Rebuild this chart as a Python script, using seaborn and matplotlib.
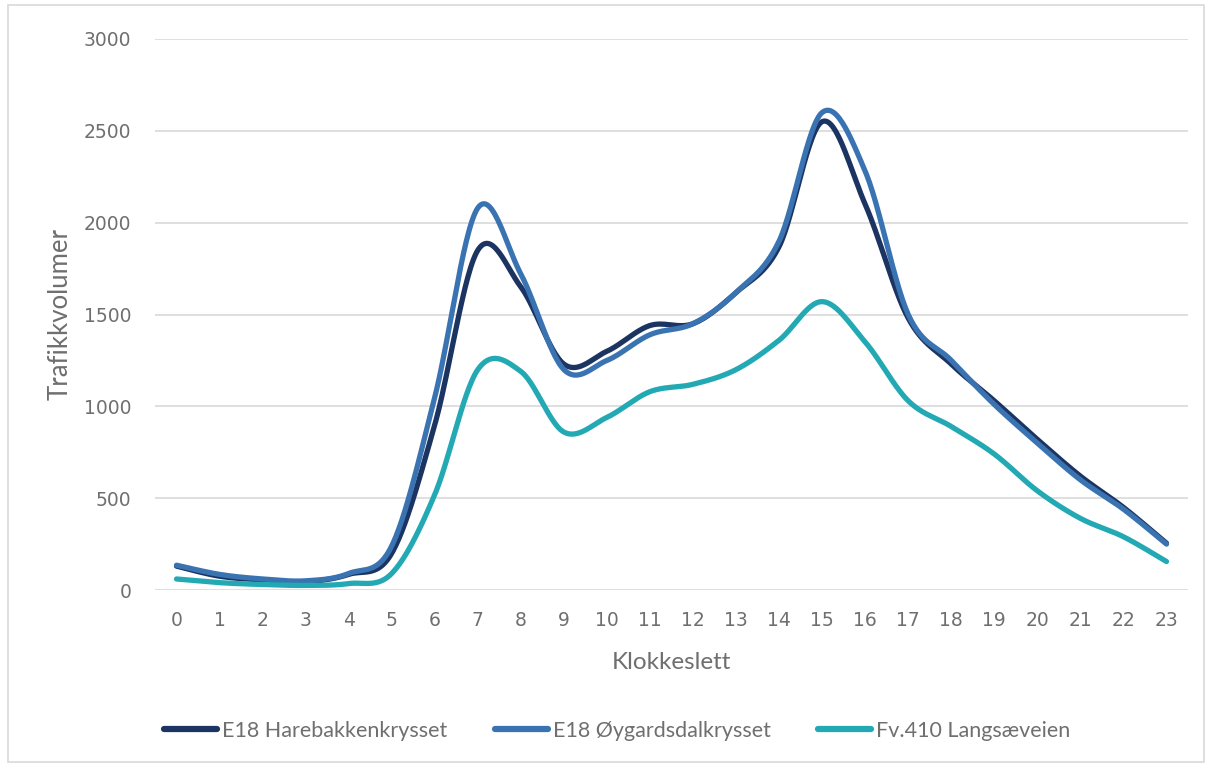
import numpy as np
import pandas as pd
import matplotlib
matplotlib.use("Agg")
import matplotlib.pyplot as plt
import seaborn as sns

# Hourly traffic volumes
hours = list(range(24))
harebakken = [130, 75, 55, 45, 85, 200, 900, 1850, 1650, 1230, 1300, 1440,
              1450, 1620, 1870, 2550, 2100, 1480, 1230, 1030, 820, 620, 450, 255]
oygardsdal = [135, 85, 60, 50, 90, 240, 1050, 2080, 1720, 1200, 1250, 1390,
              1450, 1620, 1900, 2600, 2280, 1500, 1250, 1010, 800, 600, 440, 250]
langsaeveien = [60, 40, 30, 25, 35, 90, 520, 1200, 1190, 860, 940, 1080,
                1120, 1200, 1360, 1570, 1350, 1030, 890, 740, 540, 390, 290, 155]

series_names = ["E18 Harebakkenkrysset", "E18 Øygardsdalkrysset", "Fv.410 Langsæveien"]
series_values = [harebakken, oygardsdal, langsaeveien]
colors = ["#1c3461", "#3a73b2", "#23a9b3"]
y_ticks = [0, 500, 1000, 1500, 2000, 2500, 3000]


def smooth(x, y, n=30):
    # Excel-like smoothed line: Catmull-Rom as cubic Bezier segments
    x = np.asarray(x, float)
    y = np.asarray(y, float)
    px = np.concatenate([[x[0]], x, [x[-1]]])
    py = np.concatenate([[y[0]], y, [y[-1]]])
    t = np.linspace(0, 1, n, endpoint=False)[:, None]
    outx, outy = [], []
    for i in range(1, len(px) - 2):
        for p, out in ((px, outx), (py, outy)):
            p0, p1, p2, p3 = p[i - 1], p[i], p[i + 1], p[i + 2]
            c1 = p1 + (p2 - p0) / 6
            c2 = p2 - (p3 - p1) / 6
            b = ((1 - t) ** 3 * p1 + 3 * (1 - t) ** 2 * t * c1
                 + 3 * (1 - t) * t ** 2 * c2 + t ** 3 * p2)
            out.extend(b.ravel())
    outx.append(x[-1])
    outy.append(y[-1])
    return np.array(outx), np.array(outy)


frames = []
for name, vals in zip(series_names, series_values):
    sx, sy = smooth(hours, vals)
    frames.append(pd.DataFrame({"Klokkeslett": sx, "Trafikkvolumer": sy, "Serie": name}))
df = pd.concat(frames, ignore_index=True)

sns.set_style("white")
plt.rcParams["font.family"] = ["DejaVu Sans"]
grey = "#6f6f6f"

fig = plt.figure(figsize=(12.08, 7.65), dpi=100)
ax = fig.add_axes([155 / 1208, 1 - 590 / 765, 1033 / 1208, 551 / 765])

fig.patches.append(plt.Rectangle((8 / 1208, 3 / 765), 1196 / 1208, 757 / 765,
                                 transform=fig.transFigure, fill=False,
                                 edgecolor="#d9d9d9", lw=1.2))

for y in y_ticks:
    ax.axhline(y, color="#d9d9d9", lw=1.2, zorder=0)

sns.lineplot(data=df, x="Klokkeslett", y="Trafikkvolumer", hue="Serie",
             hue_order=series_names, palette=dict(zip(series_names, colors)),
             sort=False, estimator=None, units="Serie", lw=3.8, ax=ax,
             legend=False, solid_capstyle="round")

ax.set_xlim(-0.5, 23.5)
ax.set_ylim(0, 3000)
ax.set_xticks(hours)
ax.set_yticks(y_ticks)
for s in ax.spines.values():
    s.set_visible(False)
ax.tick_params(axis="both", length=0, labelcolor=grey, labelsize=13.5)
ax.tick_params(axis="y", pad=17)
ax.tick_params(axis="x", pad=15)

ax.set_xlabel("Klokkeslett", fontsize=17.5, color=grey, family="Lato")
ax.set_ylabel("Trafikkvolumer", fontsize=18.5, color=grey, family="Lato")
ax.xaxis.set_label_coords(0.5, -0.112)
ax.yaxis.set_label_coords(-0.08, 0.5)

handles = [plt.Line2D([], [], color=c, lw=4.5, solid_capstyle="round") for c in colors]
fig.legend(handles, series_names, loc="center", bbox_to_anchor=(0.511, 1 - 731 / 765),
           ncol=3, frameon=False, handlelength=2.45, handletextpad=0.25,
           columnspacing=2.2, prop={"family": "Lato", "size": 15.5},
           labelcolor=grey)

fig.savefig("out.png", dpi=100)
